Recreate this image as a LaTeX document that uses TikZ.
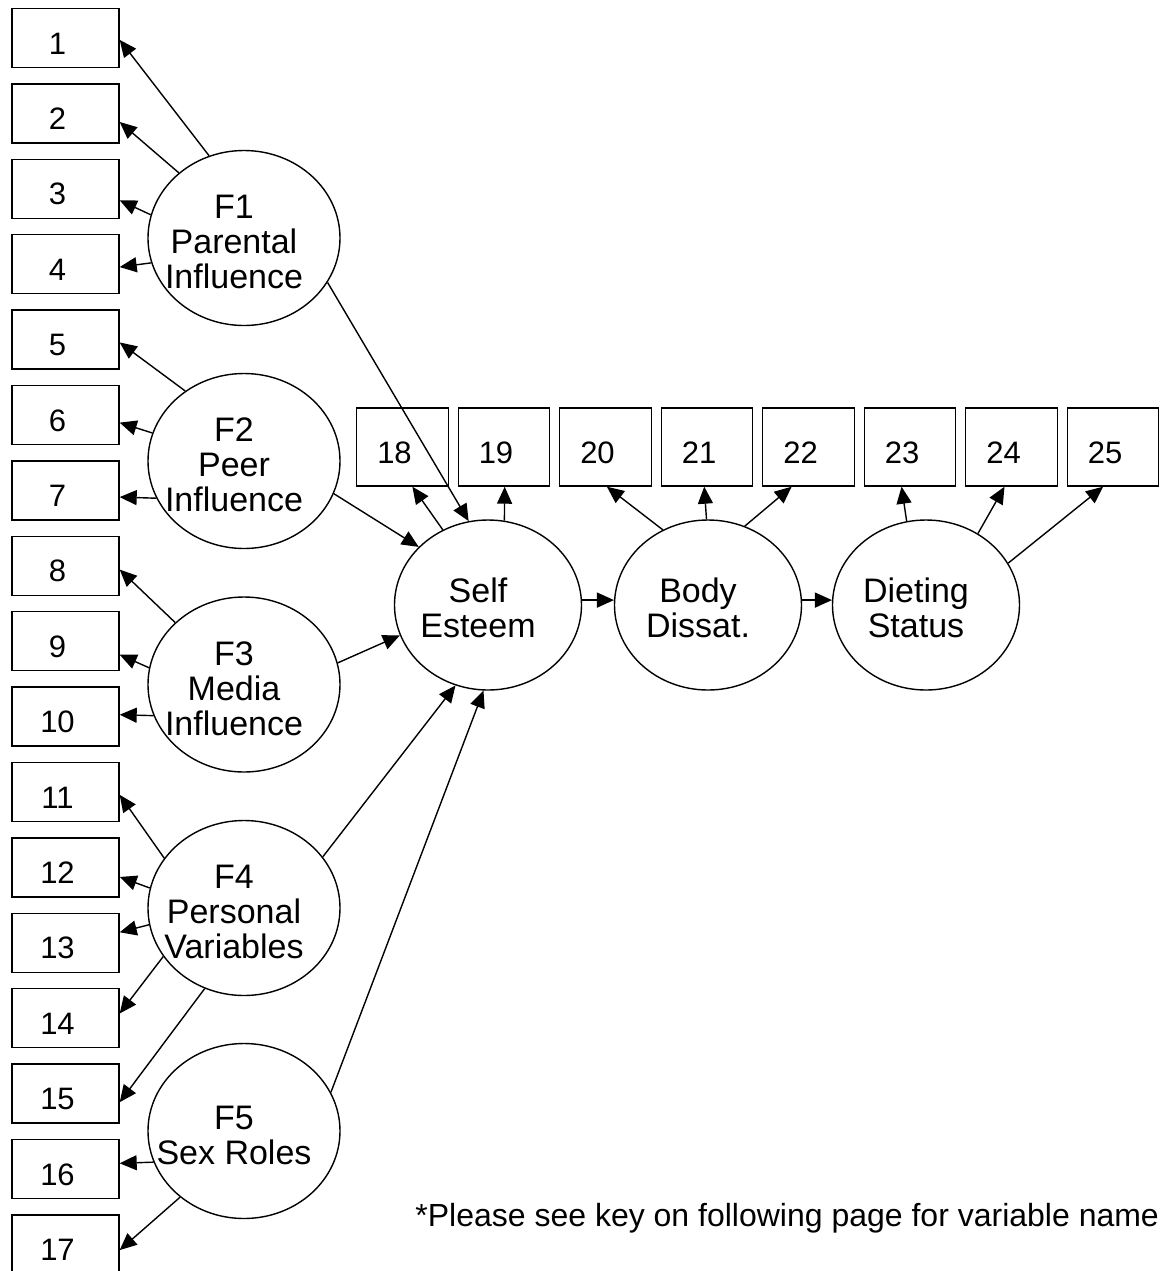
\documentclass[tikz,border=0pt]{standalone}
\usepackage{fontspec}
\setmainfont{Liberation Sans}
\usetikzlibrary{shapes.geometric,arrows.meta}

\tikzset{
  box/.style={draw, line width=0.7pt, minimum width=53.5pt, minimum height=29.5pt, inner sep=0pt,
    text height=16pt, text depth=0pt,
    font=\fontsize{15.5}{17}\selectfont, execute at begin node={\hspace*{-8pt}}},
  tbox/.style={box, minimum width=45.75pt, minimum height=39pt},
  fac/.style={draw, ellipse, line width=0.7pt, minimum width=96pt, minimum height=87.5pt, inner sep=0pt},
  lat/.style={fac, minimum width=93.5pt, minimum height=85pt},
  txt/.style={align=center, font=\fontsize{17}{17.5}\selectfont, inner sep=0pt, xshift=-5pt},
  arr/.style={line width=0.7pt, -{Triangle[length=8.5pt,width=7.5pt]}}
}

\begin{document}
\begin{tikzpicture}[x=0.5pt,y=-0.5pt]
\useasboundingbox (0,0) rectangle (1160,1271);

\foreach \i in {1,...,17} \node[box] (b\i) at (65.5,{38+(\i-1)*75.4}) {\i};
\foreach \i [count=\j from 0] in {18,...,25} \node[tbox] (b\i) at ({402.5+\j*101.5},447) {\i};

\node[fac, label={[txt,yshift=-2pt]center:F1\\Parental\\Influence}] (F1) at (244,238) {};
\node[fac, label={[txt,yshift=-2pt]center:F2\\Peer\\Influence}] (F2) at (244,461) {};
\node[fac, label={[txt,yshift=-2pt]center:F3\\Media\\Influence}] (F3) at (244,684.5) {};
\node[fac, label={[txt,yshift=-2pt]center:F4\\Personal\\Variables}] (F4) at (244,908) {};
\node[fac, label={[txt,yshift=-2pt]center:F5\\Sex Roles}] (F5) at (244,1131) {};

\node[lat, label={[txt,yshift=-1.5pt]center:Self\\Esteem}] (SE) at (488,605) {};
\node[lat, label={[txt,yshift=-1.5pt]center:Body\\Dissat.}] (BD) at (708,605) {};
\node[lat, label={[txt,yshift=-1.5pt]center:Dieting\\Status}] (DS) at (926,605) {};

\foreach \f/\a/\b/\c in {F1/113/1/-2, F1/135/2/-9, F1/166/3/-12, F1/195/4/-3,
  F2/130/5/-3, F2/163/6/-8, F2/203/7/-7,
  F3/138/8/-4, F3/170/9/-14, F3/199/10/2,
  F4/148/11/-3, F4/168/12/-10, F4/190/13/11, F4/211/14/5, F4/244/15/-9,
  F5/199/16/6, F5/226/17/-6}
  \draw[arr] (\f.\a) -- (b\b.\c);

\foreach \f/\a/\b in {F1/-28/103, F2/-20/140, F3/13/199, F4/33/248, F5/24/267}
  \draw[arr] (\f.\a) -- (SE.\b);

\foreach \f/\a/\b/\c in {SE/121/18/-76, SE/79/19/-89, BD/121/20/-88, BD/91/21/-94, BD/65/22/-113,
  DS/103/23/-102, DS/54/24/-100, DS/27/25/-104}
  \draw[arr] (\f.\a) -- (b\b.\c);

\draw[arr] (SE.3) -- (BD.177);
\draw[arr] (BD.3) -- (DS.177);

\node[anchor=base west, inner sep=0pt, font=\fontsize{16}{18}\selectfont] (note) at (415,1226)
  {*Please see key on following page for variable name};
\end{tikzpicture}
\end{document}
